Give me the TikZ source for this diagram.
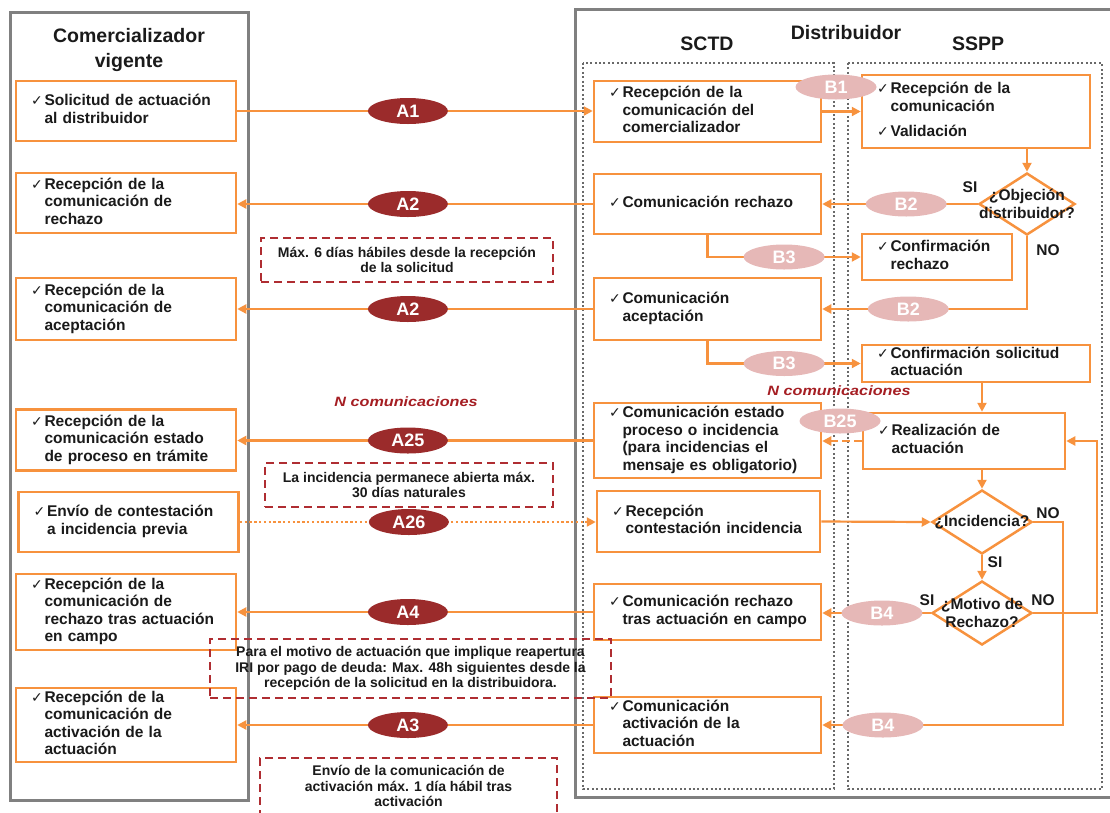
\documentclass[tikz,border=0pt]{standalone}
\usepackage{fontspec}
\setmainfont{Liberation Sans}
\newfontfamily\checkfont{DejaVu Sans}
\newfontfamily\widefont[FakeStretch=1.2]{Liberation Sans}
\usetikzlibrary{arrows.meta,shapes.geometric}
\definecolor{flowOrange}{RGB}{247,146,62}
\definecolor{aRed}{RGB}{155,43,43}
\definecolor{bPink}{RGB}{230,184,183}
\definecolor{noteRed}{RGB}{175,45,50}
\definecolor{nRed}{RGB}{165,30,35}
\definecolor{laneGray}{RGB}{128,128,128}
\definecolor{dotGray}{RGB}{105,105,105}
\definecolor{textDark}{RGB}{26,26,26}
\tikzset{
  lane frame/.style={line width=3pt,draw=laneGray},
  sub lane/.style={line width=2pt,draw=dotGray,dash pattern=on 2pt off 2.4pt},
  lane title/.style={align=center,inner sep=0pt,text=textDark,font=\bfseries\fontsize{19.5}{25}\selectfont},
  msg box/.style={draw=flowOrange,line width=2.5pt,fill=white,inner xsep=15pt,inner ysep=1pt,align=left,text=textDark,font=\bfseries\fontsize{15.5}{17.5}\selectfont},
  com box/.style={msg box,text width=190pt},
  sctd box/.style={msg box,text width=197pt},
  decision/.style={diamond,draw=flowOrange,line width=2.5pt,fill=white,inner sep=0pt},
  decision text/.style={align=center,inner sep=0pt,text=textDark,font=\bfseries\fontsize{15.5}{17.5}\selectfont},
  answer/.style={inner sep=0pt,text=textDark,font=\bfseries\fontsize{15.5}{17.5}\selectfont},
  flow line/.style={draw=flowOrange,line width=2.2pt,->},
  flow dotted/.style={flow line,dash pattern=on 2.4pt off 2.4pt},
  flow dashed/.style={flow line,dash pattern=on 8pt off 4pt},
  a label/.style={ellipse,fill=aRed,minimum width=80pt,minimum height=26pt,inner sep=0pt,text=white,font=\bfseries\fontsize{18}{18}\selectfont},
  b label/.style={ellipse,fill=bPink,minimum width=81pt,minimum height=25pt,inner sep=0pt,text=white,font=\bfseries\fontsize{18}{18}\selectfont},
  note box/.style={draw=noteRed,line width=1.3pt,dash pattern=on 8pt off 5pt,align=center,inner sep=0pt,text=textDark,font=\bfseries\fontsize{14}{15.5}\selectfont},
  n count/.style={inner sep=0pt,text=nRed,font=\widefont\bfseries\itshape\fontsize{13.5}{15}\selectfont},
  >={Triangle[length=9pt,width=9pt]},
}
\newcommand{\ck}[1]{\makebox[13.5pt][l]{\checkfont\mdseries\fontsize{14}{14}\selectfont\char"2713}\begin{tabular}[t]{@{}l@{}}#1\end{tabular}}

\begin{document}
\begin{tikzpicture}[x=1pt,y=-1pt]
\useasboundingbox (0,0) rectangle (1110,812);
\clip (0,0) rectangle (1110,812);
% lanes
\draw[lane frame] (10,12) rectangle (248,800);
\draw[lane frame] (575,9) rectangle (1125,797);
\draw[sub lane] (583,63) rectangle (834,789);
\draw[sub lane] (848,63) rectangle (1102,789);
\node[lane title] (com title) at (129,50) {Comercializador\\vigente};
\node[lane title] (dist title) at (846,33) {Distribuidor};
\node[lane title] (sctd title) at (707,44) {SCTD};
\node[lane title] (sspp title) at (978,44) {SSPP};

% comercializador vigente
\node[com box,minimum height=60pt] (l1) at (126,111) {\ck{Solicitud de actuación\\al distribuidor}};
\node[com box,minimum height=60pt] (l2) at (126,203) {\ck{Recepción de la\\comunicación de\\rechazo}};
\node[com box,minimum height=62pt] (l3) at (126,309) {\ck{Recepción de la\\comunicación de\\aceptación}};
\node[com box,minimum height=61pt] (l4) at (126,440) {\ck{Recepción de la\\comunicación estado\\de proceso en trámite}};
\node[com box,minimum height=60pt] (l5) at (128.5,522) {\ck{Envío de contestación\\a incidencia previa}};
\node[com box,minimum height=76pt] (l6) at (126,612) {\ck{Recepción de la\\comunicación de\\rechazo tras actuación\\en campo}};
\node[com box,minimum height=74pt] (l7) at (126,725) {\ck{Recepción de la\\comunicación de\\activación de la\\actuación}};

% SCTD
\node[sctd box,minimum height=61pt] (s1) at (707.5,111.5) {\ck{Recepción de la\\comunicación del\\comercializador}};
\node[sctd box,minimum height=60pt] (s2) at (707.5,204) {\ck{Comunicación rechazo}};
\node[sctd box,minimum height=62pt] (s3) at (707.5,309) {\ck{Comunicación\\aceptación}};
\node[sctd box,minimum height=75pt] (s4) at (707.5,440.5) {\ck{Comunicación estado\\proceso o incidencia\\(para incidencias el\\mensaje es obligatorio)}};
\node[sctd box,text width=193pt,minimum height=61pt] (s5) at (708.5,521.5) {\ck{Recepción\\contestación incidencia}};
\node[sctd box,minimum height=56pt] (s6) at (707.5,612) {\ck{Comunicación rechazo\\tras actuación en campo}};
\node[sctd box,minimum height=56pt] (s7) at (707.5,725) {\ck{Comunicación\\activación de la\\actuación}};

% SSPP
\node[msg box,text width=198pt,minimum height=73pt] (p1) at (976,111.5) {\ck{Recepción de la\\comunicación}\\[7pt]\ck{Validación}};
\node[msg box,text width=120pt,minimum height=46pt] (p2) at (937,257) {\ck{Confirmación\\rechazo}};
\node[msg box,text width=198pt,minimum height=37pt] (p3) at (976,363.5) {\ck{Confirmación solicitud\\actuación}};
\node[msg box,text width=172pt,minimum height=56pt] (p4) at (964,441) {\ck{Realización de\\actuación}};
\node[decision,minimum width=96pt,minimum height=62pt] (d1) at (1027,204) {};
\node[decision text] (d1 q) at (d1) {¿Objeción\\distribuidor?};
\node[decision,minimum width=100pt,minimum height=64pt] (d2) at (982,522) {};
\node[decision text] (d2 q) at (d2) {¿Incidencia?};
\node[decision,minimum width=100pt,minimum height=64pt] (d3) at (982,613) {};
\node[decision text] (d3 q) at (d3) {¿Motivo de\\Rechazo?};
\node[answer] (d1 yes) at (970,187) {SI};
\node[answer] (d1 no) at (1048,250) {NO};
\node[answer] (d2 no) at (1048,513) {NO};
\node[answer] (d2 yes) at (995,562) {SI};
\node[answer] (d3 yes) at (927,600) {SI};
\node[answer] (d3 no) at (1043,600) {NO};
\coordinate (no corner) at (1063,522);
\coordinate (loop corner) at (1097,613);

% A messages
\draw[flow line] (l1.east) -- node[a label,pos=.48] (a1) {A1} (l1.east -| s1.west);
\draw[flow line] (s2.west) -- node[a label,pos=.52] (a2r) {A2} (s2.west -| l2.east);
\draw[flow line] (s3.west) -- node[a label,pos=.52] (a2a) {A2} (s3.west -| l3.east);
\draw[flow line] (s4.west) -- node[a label,pos=.52] (a25) {A25} (s4.west -| l4.east);
\draw[flow dotted] (l5.east) -- node[a label,pos=.475] (a26) {A26} (l5.east -| s5.west);
\draw[flow line] (s6.west) -- node[a label,pos=.52] (a4) {A4} (s6.west -| l6.east);
\draw[flow line] (s7.west) -- node[a label,pos=.52] (a3) {A3} (s7.west -| l7.east);

% B messages
\draw[flow line] (s1.east) -- (s1.east -| p1.west);
\draw[flow line] (p1.south -| d1.north) -- (d1.north);
\draw[flow line] (d1.west) -- node[b label,pos=.46] (b2r) {B2} (d1.west -| s2.east);
\draw[flow line] (s2.south) |- node[b label,pos=.75] (b3r) {B3} (p2.west);
\draw[flow line] (d1.south) |- node[b label,pos=.79] (b2a) {B2} (s3.east);
\draw[flow line] (s3.south) |- node[b label,pos=.75] (b3a) {B3} (p3.west);
\draw[flow line] (p3.south -| d2.north) -- (p4.north -| d2.north);
\draw[flow dashed] (p4.west) -- (p4.west -| s4.east);
\draw[flow line] (p4.south -| d2.north) -- (d2.north);
\draw[flow line] (s5.east) -- (d2.west);
\draw[flow line] (d2.south) -- (d3.north);
\draw[flow line] (d3.west) -- node[b label,pos=.45] (b4r) {B4} (d3.west -| s6.east);
\draw[flow line] (d2.east) -- (no corner) |- node[b label,pos=.874] (b4a) {B4} (s7.east);
\draw[flow line] (d3.east) -- (loop corner) |- (p4.east);
\node[b label] (b1) at (836,87) {B1};
\node[b label] (b25) at (840,421) {B25};

% notes
\node[note box,minimum width=292pt,minimum height=44pt] (n1) at (407,260) {Máx. 6 días hábiles desde la recepción\\de la solicitud};
\node[note box,minimum width=288pt,minimum height=44pt] (n2) at (409,485) {La incidencia permanece abierta máx.\\30 días naturales};
\node[note box,minimum width=401pt,minimum height=59pt] (n3) at (410.5,668.5) {Para el motivo de actuación que implique reapertura\\IRI por pago de deuda: Max. 48h siguientes desde la\\recepción de la solicitud en la distribuidora.};
\node[note box,minimum width=297pt,minimum height=56pt] (n4) at (408.5,786) {Envío de la comunicación de\\activación máx. 1 día hábil tras\\activación};
\node[n count] (n comm a) at (406,402) {N comunicaciones};
\node[n count] (n comm b) at (839,391) {N comunicaciones};
\end{tikzpicture}
\end{document}
